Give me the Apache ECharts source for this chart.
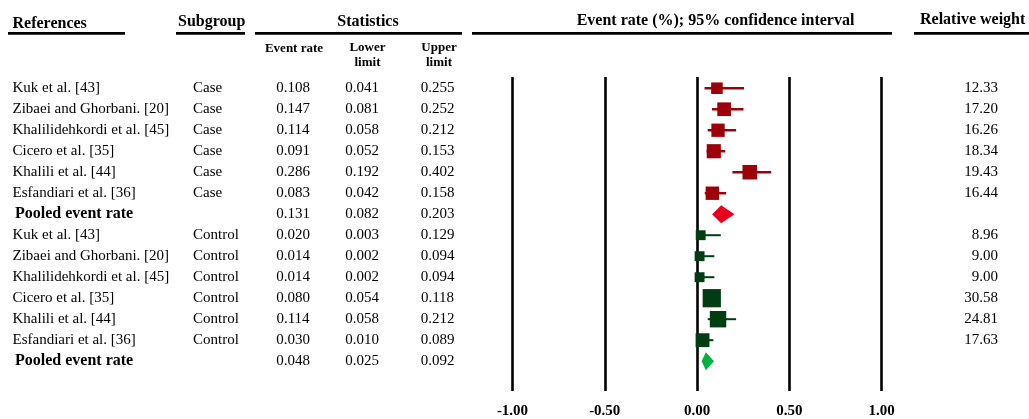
<!DOCTYPE html>
<html>
<head>
<meta charset="utf-8">
<script src="https://cdn.jsdelivr.net/npm/echarts@6/dist/echarts.min.js"></script>
<style>
html,body{margin:0;padding:0;background:#fff;}
#chart{width:1029px;height:419px;}
</style>
</head>
<body>
<div id="chart"></div>
<script>
// ---- data ----
const studies = ['Kuk et al. [43]', 'Zibaei and Ghorbani. [20]', 'Khalilidehkordi et al. [45]', 'Cicero et al. [35]', 'Khalili et al. [44]', 'Esfandiari et al. [36]'];
const caseRate   = [0.108, 0.147, 0.114, 0.091, 0.286, 0.083];
const caseLower  = [0.041, 0.081, 0.058, 0.052, 0.192, 0.042];
const caseUpper  = [0.255, 0.252, 0.212, 0.153, 0.402, 0.158];
const caseWeight = ['12.33', '17.20', '16.26', '18.34', '19.43', '16.44'];
const casePooled = [0.131, 0.082, 0.203];
const ctrlRate   = [0.020, 0.014, 0.014, 0.080, 0.114, 0.030];
const ctrlLower  = [0.003, 0.002, 0.002, 0.054, 0.058, 0.010];
const ctrlUpper  = [0.129, 0.094, 0.094, 0.118, 0.212, 0.089];
const ctrlWeight = ['8.96', '9.00', '9.00', '30.58', '24.81', '17.63'];
const ctrlPooled = [0.048, 0.025, 0.092];
const xTicks = [-1.00, -0.50, 0.00, 0.50, 1.00];

// ---- styles ----
const FONT = "'Liberation Serif', 'Times New Roman', serif";
const caseSq = '#9c0008', caseDia = '#e8001c';
const ctrlSq = '#003d12', ctrlDia = '#00b140';

// build rows
const rows = [];
studies.forEach((s, i) => rows.push({name: s, sub: 'Case', r: caseRate[i], lo: caseLower[i], hi: caseUpper[i], w: caseWeight[i], pooled: false}));
rows.push({name: 'Pooled event rate', sub: '', r: casePooled[0], lo: casePooled[1], hi: casePooled[2], w: '', pooled: true});
studies.forEach((s, i) => rows.push({name: s, sub: 'Control', r: ctrlRate[i], lo: ctrlLower[i], hi: ctrlUpper[i], w: ctrlWeight[i], pooled: false}));
rows.push({name: 'Pooled event rate', sub: '', r: ctrlPooled[0], lo: ctrlPooled[1], hi: ctrlPooled[2], w: '', pooled: true});

const caseIdx = [0,1,2,3,4,5], ctrlIdx = [7,8,9,10,11,12];

function ciSeries(idx, color, lw) {
  return {
    type: 'custom', silent: true, z: 3,
    encode: {x: [0, 2], y: 1},
    data: idx.map(i => [rows[i].lo, i, rows[i].hi]),
    renderItem: function (params, api) {
      const y = api.value(1);
      const a = api.coord([api.value(0), y]);
      const b = api.coord([api.value(2), y]);
      return {type: 'line', shape: {x1: a[0], y1: a[1], x2: b[0], y2: b[1]}, style: {stroke: color, lineWidth: lw}};
    }
  };
}
function sqSeries(idx, color) {
  return {
    type: 'scatter', silent: true, z: 4, symbol: 'rect',
    data: idx.map(i => [rows[i].r, i, parseFloat(rows[i].w)]),
    symbolSize: v => 3.3 * Math.sqrt(v[2]),
    itemStyle: {color: color, opacity: 1}
  };
}
function diaSeries(row, color) {
  return {
    type: 'custom', silent: true, z: 4,
    encode: {x: [0, 2, 3], y: 1},
    data: [[rows[row].r, row, rows[row].lo, rows[row].hi]],
    renderItem: function (params, api) {
      const y = api.value(1);
      const c = api.coord([api.value(0), y]);
      const l = api.coord([api.value(2), y]);
      const r = api.coord([api.value(3), y]);
      const h = 9;
      return {type: 'polygon', shape: {points: [[l[0], c[1]], [c[0], c[1] - h], [r[0], c[1]], [c[0], c[1] + h]]}, style: {fill: color}};
    }
  };
}

const tableSeries = {
  type: 'custom', silent: true, clip: false, z: 5,
  encode: {x: 0, y: 1},
  data: rows.map((r, i) => [0, i]),
  renderItem: function (params, api) {
    const i = api.value(1);
    const row = rows[i];
    const y = api.coord([0, i])[1];
    const base = {fill: '#000', fontFamily: FONT, fontSize: 15, verticalAlign: 'middle'};
    const t = (text, x, align, extra) => ({type: 'text', style: Object.assign({}, base, {text: text, x: x, y: y, align: align}, extra || {})});
    const ch = [];
    if (row.pooled) ch.push(t(row.name, 15, 'left', {fontWeight: 'bold', fontSize: 16}));
    else ch.push(t(row.name, 12.5, 'left'));
    if (row.sub) ch.push(t(row.sub, 193, 'left'));
    ch.push(t(row.r.toFixed(3), 293, 'center'));
    ch.push(t(row.lo.toFixed(3), 362, 'center'));
    ch.push(t(row.hi.toFixed(3), 437.5, 'center'));
    if (row.w) ch.push(t(row.w, 998, 'right'));
    return {type: 'group', children: ch};
  }
};

function hText(text, x, y, align, size) {
  return {type: 'text', silent: true, style: {text: text, x: x, y: y, align: align, verticalAlign: 'middle', fill: '#000', fontFamily: FONT, fontWeight: 'bold', fontSize: size, lineHeight: 15}};
}
function uLine(x1, x2) {
  return {type: 'rect', silent: true, shape: {x: x1, y: 32, width: x2 - x1, height: 2.8}, style: {fill: '#000'}};
}

const chart = echarts.init(document.getElementById('chart'), null, {renderer: 'canvas'});
chart.setOption({
  animation: false,
  backgroundColor: '#fff',
  grid: {left: 512.5, right: 147.5, top: 77, bottom: 26},
  xAxis: {
    type: 'value', min: xTicks[0], max: xTicks[xTicks.length - 1], interval: 0.5,
    axisLine: {show: false}, axisTick: {show: false},
    splitLine: {show: true, lineStyle: {color: '#000', width: 2.6, type: 'solid'}},
    axisLabel: {margin: 13, formatter: v => v.toFixed(2), color: '#000', fontFamily: FONT, fontWeight: 'bold', fontSize: 15}
  },
  yAxis: {
    type: 'value', inverse: true, min: -0.535, max: 14.42,
    show: false, splitLine: {show: false}
  },
  graphic: [
    hText('References', 12.5, 24, 'left', 16),
    hText('Subgroup', 178, 22, 'left', 16),
    hText('Statistics', 368, 22, 'center', 16),
    hText('Event rate', 294, 49, 'center', 13),
    hText('Lower\nlimit', 367.5, 55.5, 'center', 13),
    hText('Upper\nlimit', 439, 55.5, 'center', 13),
    hText('Event rate (%); 95% confidence interval', 715.5, 21, 'center', 16),
    hText('Relative weight', 920, 20, 'left', 16),
    uLine(8, 125), uLine(176, 245), uLine(255, 462), uLine(472, 892), uLine(914, 1029)
  ],
  series: [
    ciSeries(caseIdx, caseSq, 2.5),
    ciSeries(ctrlIdx, ctrlSq, 2),
    sqSeries(caseIdx, caseSq),
    sqSeries(ctrlIdx, ctrlSq),
    diaSeries(6, caseDia),
    diaSeries(13, ctrlDia),
    tableSeries
  ]
});
</script>
</body>
</html>
